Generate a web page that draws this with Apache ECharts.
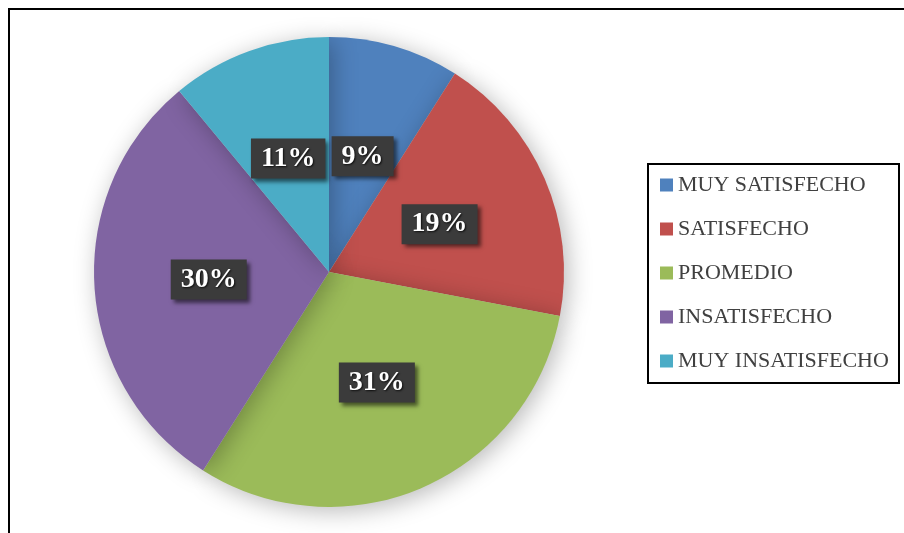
<!DOCTYPE html>
<html>
<head>
<meta charset="utf-8">
<script src="https://cdn.jsdelivr.net/npm/echarts@6/dist/echarts.min.js"></script>
<style>
  html, body { margin: 0; padding: 0; background: #fff; }
  #chart { width: 904px; height: 533px; }
</style>
</head>
<body>
<div id="chart"></div>
<script>
// datos del gráfico
const categories = ['MUY SATISFECHO', 'SATISFECHO', 'PROMEDIO', 'INSATISFECHO', 'MUY INSATISFECHO'];
const values = [9, 19, 31, 30, 11];
const colors = ['#4f81bd', '#c0504d', '#9bbb59', '#8064a2', '#4bacc6'];

const chart = echarts.init(document.getElementById('chart'));

const options = {
  animation: false,
  color: colors,
  graphic: [
    // marco exterior (solo borde izquierdo y superior visibles)
    {
      type: 'rect',
      shape: { x: 9, y: 9, width: 1000, height: 1000 },
      style: { fill: 'none', stroke: '#000', lineWidth: 2 },
      silent: true
    },
    // caja de la leyenda
    {
      type: 'rect',
      shape: { x: 648, y: 164, width: 251, height: 219 },
      style: { fill: '#fff', stroke: '#000', lineWidth: 2 },
      silent: true,
      z: -1
    }
  ],
  legend: {
    orient: 'vertical',
    left: 660,
    top: 174,
    padding: 0,
    itemWidth: 13,
    itemHeight: 13,
    itemGap: 22,
    icon: 'rect',
    selectedMode: false,
    data: categories,
    textStyle: {
      fontFamily: 'Liberation Serif',
      fontSize: 22,
      lineHeight: 22,
      color: '#404040'
    }
  },
  series: [
    {
      type: 'pie',
      center: [329, 272],
      radius: 235,
      startAngle: 90,
      clockwise: true,
      silent: true,
      itemStyle: {
        borderWidth: 0,
        shadowBlur: 24,
        shadowColor: 'rgba(0,0,0,0.28)',
        shadowOffsetX: 4,
        shadowOffsetY: 4
      },
      label: {
        show: true,
        position: 'inside',
        formatter: '{c}%',
        fontFamily: 'Liberation Serif',
        fontWeight: 'bold',
        fontSize: 28,
        lineHeight: 28,
        color: '#fff',
        backgroundColor: '#3b3b3b',
        padding: [6, 10],
        shadowBlur: 4,
        shadowColor: 'rgba(0,0,0,0.55)',
        shadowOffsetX: 3,
        shadowOffsetY: 3,
        textShadowColor: 'rgba(0,0,0,0.8)',
        textShadowBlur: 2,
        textShadowOffsetX: 1,
        textShadowOffsetY: 1
      },
      labelLine: { show: false },
      data: categories.map((name, i) => ({ name: name, value: values[i] }))
    }
  ]
};

chart.setOption(options);
</script>
</body>
</html>
